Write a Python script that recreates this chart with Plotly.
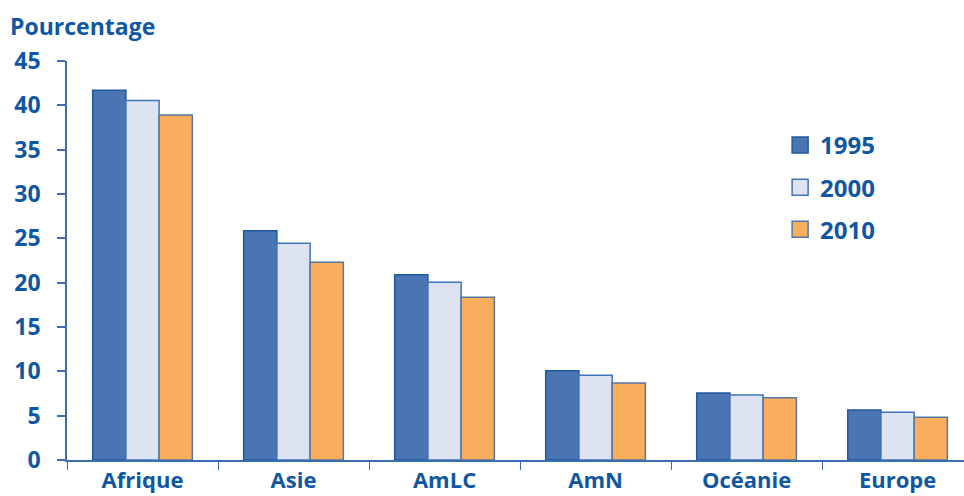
import plotly.graph_objects as go

regions = ["Afrique", "Asie", "AmLC", "AmN", "Océanie", "Europe"]
years = ["1995", "2000", "2010"]
pct_1995 = [41.7, 25.85, 20.9, 10.07, 7.55, 5.64]
pct_2000 = [40.55, 24.45, 20.05, 9.55, 7.33, 5.38]
pct_2010 = [38.9, 22.3, 18.35, 8.68, 7.02, 4.81]
y_ticks = [0, 5, 10, 15, 20, 25, 30, 35, 40, 45]

series = [pct_1995, pct_2000, pct_2010]
fills = ["#4a74b2", "#dde3f1", "#f9ae5e"]
edges = ["#1f5aa0", "#3f74b8", "#56789f"]
ink = "#0f57a2"
font_family = "Open Sans"

fig = go.Figure()
for name, vals, fc, ec in zip(years, series, fills, edges):
    fig.add_trace(go.Bar(
        x=regions, y=vals, name=name, showlegend=False,
        marker=dict(color=fc, line=dict(color=ec, width=1.5)),
    ))
# legend swatches
for name, fc, ec in zip(years, fills, edges):
    fig.add_trace(go.Scatter(
        x=[None], y=[None], mode="markers", name=name, legendgroup=name,
        marker=dict(symbol="square", size=20, color=fc, line=dict(color=ec, width=1.5)),
    ))

fig.update_layout(
    width=964, height=496,
    margin=dict(l=67, r=0, t=61, b=36),
    paper_bgcolor="white", plot_bgcolor="white",
    barmode="group", bargap=0.34, bargroupgap=0,
    font=dict(family=font_family, color=ink, size=22),
    legend=dict(
        x=0.795, y=0.845, xanchor="left", yanchor="top",
        font=dict(size=24, family=font_family, color=ink, weight="bold"),
        traceorder="grouped", tracegroupgap=8, itemwidth=30,
        bgcolor="rgba(0,0,0,0)",
    ),
    xaxis=dict(
        type="category", range=[-0.5, 5.44], automargin=False,
        showline=True, linecolor="#3a6eb0", linewidth=1.5,
        ticks="outside", tickson="boundaries", ticklen=8, tickcolor="#3a6eb0", tickwidth=1,
        ticklabelstandoff=0,
        tickfont=dict(size=22, family=font_family, color=ink, weight="bold"),
        showgrid=False, zeroline=False,
    ),
    yaxis=dict(
        range=[0, 45], tickvals=y_ticks, automargin=False,
        showline=True, linecolor="#3a6eb0", linewidth=1.5,
        ticks="outside", ticklen=8, tickcolor="#3a6eb0", tickwidth=1.5,
        ticklabelstandoff=12,
        tickfont=dict(size=23, family=font_family, color=ink, weight="bold"),
        showgrid=False, zeroline=False,
    ),
    annotations=[dict(
        text="Pourcentage", xref="paper", yref="paper", x=0, y=1,
        xanchor="left", yanchor="middle", xshift=-59, yshift=35, showarrow=False,
        font=dict(size=23, family=font_family, color=ink, weight="bold"),
    )],
)

fig.write_html("out.html")
